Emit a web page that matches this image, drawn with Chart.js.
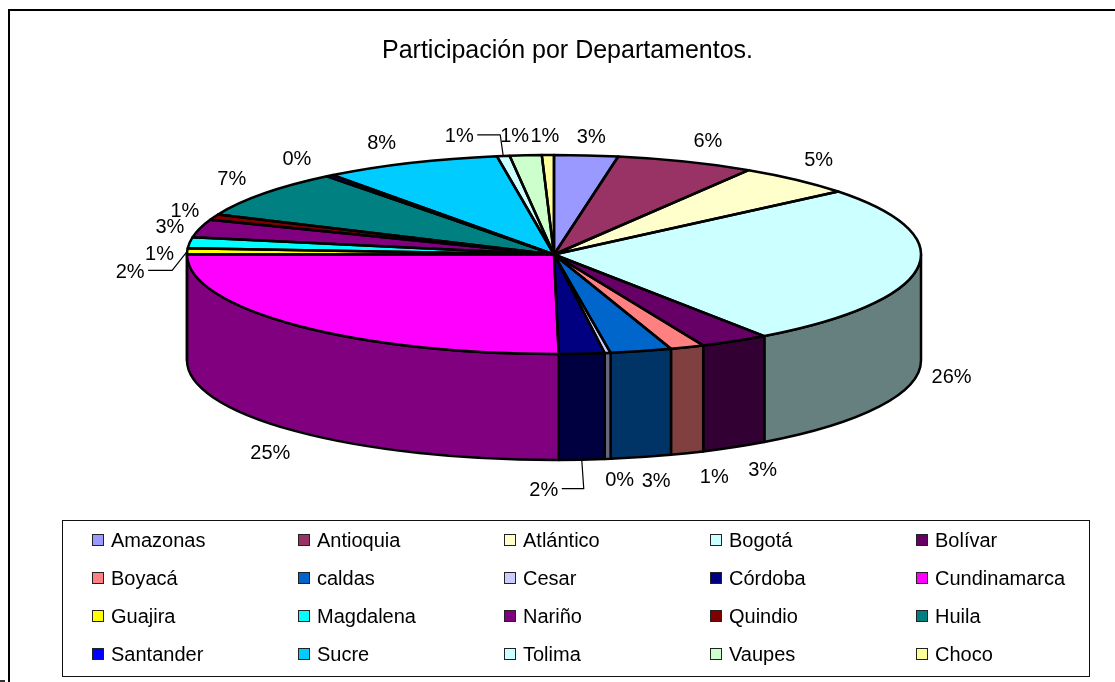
<!DOCTYPE html>
<html lang="es">
<head>
<meta charset="utf-8">
<title>Participación por Departamentos</title>
<script src="https://cdn.jsdelivr.net/npm/chart.js@4"></script>
<style>
  html, body { margin: 0; padding: 0; background: #fff; overflow: hidden; }
  body { width: 1115px; height: 682px; position: relative; font-family: 'Liberation Sans', Arial, sans-serif; color: #000; }
  canvas { position: absolute; left: 0; top: 0; }
  #marco { position: absolute; left: 8px; top: 9px; right: 0; bottom: 0; border-left: 2px solid #000; border-top: 2px solid #000; }
  #marca { position: absolute; left: 0; top: 680px; width: 5px; height: 2px; background: #333; }
  #leyenda { position: absolute; left: 62px; top: 520px; width: 1026px; height: 155px; border: 1.5px solid #111; box-sizing: content-box; }
  .item { position: absolute; font-size: 20px; line-height: 24px; height: 24px; white-space: nowrap; padding-left: 19px; }
  .item i { position: absolute; left: 0; top: 6px; width: 10px; height: 10px; border: 1.5px solid #222; }
</style>
</head>
<body>
<div id="marco"></div>
<div id="marca"></div>
<canvas id="graficaDepartamentos" width="1115" height="682"></canvas>
<div id="leyenda"></div>

<script>
const titulo = 'Participación por Departamentos.';

const departamentos = ['Amazonas', 'Antioquia', 'Atlántico', 'Bogotá', 'Bolívar',
  'Boyacá', 'caldas', 'Cesar', 'Córdoba', 'Cundinamarca',
  'Guajira', 'Magdalena', 'Nariño', 'Quindio', 'Huila',
  'Santander', 'Sucre', 'Tolima', 'Vaupes', 'Choco'];

// Valores estimados a partir de la imagen
const participacion = [2.8, 6.1, 5.2, 26.2, 3.05,
  1.5, 2.7, 0.26, 2.0, 25.2,
  1.0, 1.8, 2.9, 0.9, 7.8,
  0.33, 7.8, 0.56, 1.4, 0.53];

// Etiquetas tal como aparecen en la gráfica original
const etiquetas = ['3%', '6%', '5%', '26%', '3%',
  '1%', '3%', '0%', '2%', '25%',
  '2%', '1%', '3%', '1%', '7%',
  '0%', '8%', '1%', '1%', '1%'];

const colores = ['#9999FF', '#993366', '#FFFFCC', '#CCFFFF', '#660066',
  '#FF8080', '#0066CC', '#CCCCFF', '#000080', '#FF00FF',
  '#FFFF00', '#00FFFF', '#800080', '#800000', '#008080',
  '#0000FF', '#00CCFF', '#CCFFFF', '#CCFFCC', '#FFFF99'];

// Geometría de la tarta en perspectiva
const pastel = { x: 554, y: 254.5, rx: 367, ry: 99.5, fondo: 106 };

// Desplazamiento de cada etiqueta respecto al borde de su porción
const ajusteEtiquetas = [[5, -20], [22, -22], [22, -21], [34, 1], [28, 21],
  [27, 22], [15, 22], [12, 20], [-38, 29], [-26, 20],
  [-57, 19], [-30, 10], [-30, -3], [-29, -8], [-32, -16],
  [-33, -18], [-29, -21], [-44, -21], [-11, -21], [-3, -21]];

// Líneas guía: índice de la porción y punto de quiebre relativo a la etiqueta
const guias = { 8: { dx: 40 }, 10: { dx: 42 }, 17: { dx: 41 } };

const columnasLeyenda = [91, 297, 503, 709, 915];
const filasLeyenda = [527, 565, 603, 641];

function oscurecer(hex) {
  const n = parseInt(hex.slice(1), 16);
  const m = c => Math.round(c / 2);
  return `rgb(${m(n >> 16 & 255)},${m(n >> 8 & 255)},${m(n & 255)})`;
}

function puntoBorde(angulo) {
  return {
    x: pastel.x + pastel.rx * Math.cos(angulo),
    y: pastel.y + pastel.ry * Math.sin(angulo)
  };
}

const tarta3d = {
  id: 'tarta3d',

  // Paredes laterales de la mitad frontal, debajo de la tapa
  beforeDatasetsDraw(chart) {
    const { ctx } = chart;
    const arcos = chart.getDatasetMeta(0).data;
    ctx.save();
    ctx.lineWidth = 2.5;
    ctx.strokeStyle = '#000';
    ctx.lineJoin = 'round';
    arcos.forEach((arco, i) => {
      const a = Math.max(arco.startAngle, 0);
      const b = Math.min(arco.endAngle, Math.PI);
      if (b <= a) return;
      ctx.beginPath();
      ctx.ellipse(pastel.x, pastel.y, pastel.rx, pastel.ry, 0, a, b);
      ctx.ellipse(pastel.x, pastel.y + pastel.fondo, pastel.rx, pastel.ry, 0, b, a, true);
      ctx.closePath();
      ctx.fillStyle = oscurecer(colores[i]);
      ctx.fill();
      ctx.stroke();
    });
    ctx.restore();

    // La tapa la dibuja Chart.js, aplastada a la elipse
    const r = arcos[0].outerRadius;
    ctx.save();
    ctx.translate(pastel.x, pastel.y);
    ctx.scale(pastel.rx / r, pastel.ry / r);
    ctx.translate(-arcos[0].x, -arcos[0].y);
  },

  afterDatasetsDraw(chart) {
    const { ctx } = chart;
    ctx.restore();

    const arcos = chart.getDatasetMeta(0).data;
    ctx.save();
    ctx.lineWidth = 2.5;
    ctx.strokeStyle = '#000';
    ctx.lineJoin = 'round';
    arcos.forEach(arco => {
      ctx.beginPath();
      ctx.moveTo(pastel.x, pastel.y);
      ctx.ellipse(pastel.x, pastel.y, pastel.rx, pastel.ry, 0, arco.startAngle, arco.endAngle);
      ctx.closePath();
      ctx.stroke();
    });

    ctx.font = "20px 'Liberation Sans', Arial, sans-serif";
    ctx.fillStyle = '#000';
    ctx.textAlign = 'center';
    ctx.textBaseline = 'middle';
    ctx.lineWidth = 1.2;
    arcos.forEach((arco, i) => {
      const medio = (arco.startAngle + arco.endAngle) / 2;
      const borde = puntoBorde(medio);
      if (Math.sin(medio) > 0) borde.y += pastel.fondo;
      const lx = borde.x + ajusteEtiquetas[i][0];
      const ly = borde.y + ajusteEtiquetas[i][1];
      ctx.fillText(etiquetas[i], lx, ly + 2);

      const guia = guias[i];
      if (guia) {
        ctx.beginPath();
        ctx.moveTo(lx + 18, ly);
        ctx.lineTo(lx + guia.dx, ly);
        ctx.lineTo(borde.x, borde.y);
        ctx.stroke();
      }
    });
    ctx.restore();
  }
};

new Chart(document.getElementById('graficaDepartamentos'), {
  type: 'pie',
  data: {
    labels: departamentos,
    datasets: [{
      data: participacion,
      backgroundColor: colores,
      borderWidth: 0,
      clip: false
    }]
  },
  options: {
    responsive: false,
    animation: false,
    layout: { padding: { left: 20 } },
    events: [],
    plugins: {
      legend: { display: false },
      tooltip: { enabled: false },
      title: {
        display: true,
        text: titulo,
        color: '#000',
        font: { family: "'Liberation Sans', Arial, sans-serif", size: 25, weight: 'normal' },
        padding: { top: 36, bottom: 10 }
      }
    }
  },
  plugins: [tarta3d]
});

// Leyenda en rejilla de cinco columnas
const leyenda = document.getElementById('leyenda');
departamentos.forEach((nombre, i) => {
  const item = document.createElement('div');
  item.className = 'item';
  item.style.left = (columnasLeyenda[i % 5] - 62) + 'px';
  item.style.top = (filasLeyenda[Math.floor(i / 5)] - 520) + 'px';
  const cuadro = document.createElement('i');
  cuadro.style.background = colores[i];
  item.appendChild(cuadro);
  item.appendChild(document.createTextNode(nombre));
  leyenda.appendChild(item);
});
</script>
</body>
</html>
